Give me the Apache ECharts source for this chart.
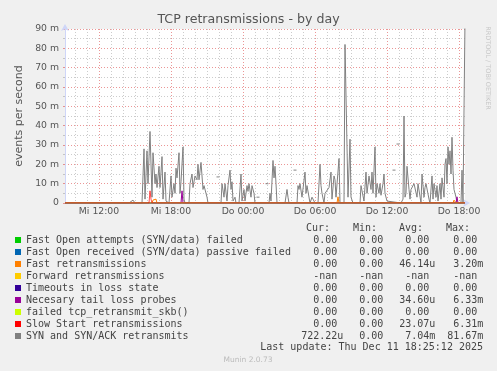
<!DOCTYPE html>
<html><head><meta charset="utf-8">
<style>html,body{margin:0;padding:0;background:#f0f0f0;}#c{width:497px;height:371px;}</style>
<script src="https://cdn.jsdelivr.net/npm/echarts@6/dist/echarts.min.js"></script>
</head><body><div id="c"></div>
<script>
// ---- time base: minutes since Wed 00:00, one step = 5 minutes ----
const startMinute = 550;      // Mi 09:10
const stepMinutes = 5;
const lastStep = 400;         // Do 18:30
const xTickMinutes = [720, 1080, 1440, 1800, 2160, 2520];
const xTickLabels = ['Mi 12:00', 'Mi 18:00', 'Do 00:00', 'Do 06:00', 'Do 12:00', 'Do 18:00'];
const yTickLabels = ['0', '10 m', '20 m', '30 m', '40 m', '50 m', '60 m', '70 m', '80 m', '90 m'];

// ---- legend ----
const seriesNames = [
  'Fast Open attempts (SYN/data) failed',
  'Fast Open received (SYN/data) passive failed',
  'Fast retransmissions',
  'Forward retransmissions',
  'Timeouts in loss state',
  'Necesary tail loss probes',
  'failed tcp_retransmit_skb()',
  'Slow Start retransmissions',
  'SYN and SYN/ACK retransmits'
];
const seriesColors = ['#00CC00', '#0066B3', '#FF8000', '#FFCC00', '#330099', '#990099', '#CCFF00', '#FF0000', '#808080'];
const curStats = ['0.00', '0.00', '0.00', '-nan', '0.00', '0.00', '0.00', '0.00', '722.22u'];
const minStats = ['0.00', '0.00', '0.00', '-nan', '0.00', '0.00', '0.00', '0.00', '0.00'];
const avgStats = ['0.00', '0.00', '46.14u', '-nan', '0.00', '34.60u', '0.00', '23.07u', '7.04m'];
const maxStats = ['0.00', '0.00', '3.20m', '-nan', '0.00', '6.33m', '0.00', '6.31m', '81.67m'];

// ---- series values: [step, value in milli-events/s] ----
const synPoints = [
  [0,0],[64,0],[66,1],[68,1.5],[70,0],[77,0],[79,28],[80,2],[82,27],[83,10],[85,37],[87,3],[88,26],
  [90,10],[91,15],[92,8],[94,19],[95,8],[97,24],[98,2],[100,16],[101,1],[103,0],[104,0],[106,14],
  [107,3],[109,10],[110,5],[111,18],[112,13],[114,26],[115,5],[116,11],[118,29],[119,2],[120,0],
  [124,0],[125,10],[127,15],[128,8],[130,14],[132,12],[133,20],[134,12],[136,21],[138,7],[139,9],
  [140,9],[142,3],[143,0],[156,0],[157,10],[159,3],[160,10],[162,1],[163,9],[165,17],[166,7],
  [167,11],[168,1],[170,3],[171,0],[174,0],[176,15],[177,1],[179,7],[180,1],[182,9],[183,6],
  [184,10],[186,3],[187,9],[188,9],[189,5],[190,0],[204,0],[205,5],[206,1],[208,22],[209,13],
  [210,19],[211,10],[212,0],[220,0],[222,7],[223,3],[224,0],[232,0],[233,9],[234,7],[235,10],
  [237,3],[238,3],[240,16],[241,5],[242,9],[244,9],[245,0],[247,3],[249,3],[250,0],[253,0],
  [255,20],[256,9],[257,5],[259,0],[260,5],[262,4],[264,8],[266,16],[267,2],[269,14],[270,12],
  [271,3],[272,3],[274,23],[275,0],[279,0],[280,82],[281,81],[283,3],[285,33],[286,3],[288,0],
  [295,0],[296,9],[298,9],[299,1],[301,16],[302,5],[304,14],[306,7],[307,16],[308,5],[310,29],
  [311,3],[312,10],[314,5],[315,10],[316,4],[318,10],[319,15],[320,5],[322,1],[323,0],[336,0],
  [338,2],[339,45],[340,3],[341,5],[342,19],[343,18],[344,7],[345,2],[346,7],[348,6],[349,10],
  [351,10],[352,3],[353,10],[355,10],[356,0],[357,15],[359,3],[360,8],[361,10],[363,10],[364,2],
  [365,0],[367,14],[368,2],[369,10],[371,3],[372,9],[373,1],[375,10],[376,2],[377,13],[379,3],
  [380,20],[381,23],[382,10],[383,29],[384,20],[385,27],[386,15],[387,34],[388,17],[389,7],
  [391,3],[392,0],[396,0],[397,17],[398,0],[399,0],[400,95]
];
const synIsolated = [[153,13.5],[193,3],[202,10],[230,17],[329,17],[333,30.5]];
const fastRetransPoints = [[0,0],[87,0],[88,1.5],[89,1],[90,1.5],[91,2],[92,0],[272,0],[273,3.2],[274,0],[388,0],[389,1.5],[390,1.5],[391,0],[400,0]];
const tailProbePoints = [[0,0],[116,0],[117,6.3],[118,0],[391,0],[392,3.2],[393,0],[400,0]];
const slowStartPoints = [[0,0],[84,0],[85,6.3],[86,2],[87,0],[400,0]];
const zeroPoints = [[0,0],[400,0]];
const forwardPoints = [];

const toXY = pts => pts.map(p => [startMinute + p[0] * stepMinutes, p[1]]);
const xMin = startMinute, xMax = startMinute + lastStep * stepMinutes;
const hourTicks = [];
for (let m = 600; m <= xMax; m += 60) if (xTickMinutes.indexOf(m) < 0) hourTicks.push(m);

const GRID = 'rgba(143,143,143,0.45)';
const MGRID = 'rgba(222,80,80,0.6)';
const AXIS = '#CFD6F8';
const FONT = 'DejaVu Sans';
const MONO = 'DejaVu Sans Mono';
const NBSP = '\u00a0';

function lineSeries(name, pts, color, z, opacity) {
  return {
    name, type: 'line', data: toXY(pts), showSymbol: false, symbol: 'none', z,
    lineStyle: { width: 1, color, opacity: opacity == null ? 1 : opacity }, itemStyle: { color }, silent: true, animation: false, clip: true
  };
}

// value field: 6 monospace chars for the number, 1 for the unit suffix
const field = s => {
  const hasUnit = /[a-z]$/.test(s) && s !== '-nan';
  const num = hasUnit ? s.slice(0, -1) : s;
  const unit = hasUnit ? s.slice(-1) : NBSP;
  return NBSP.repeat(Math.max(0, 6 - num.length)) + num + unit;
};
const legendFormatter = name => {
  const i = seriesNames.indexOf(name);
  return `{n|${name}}{c|${field(curStats[i])}}{m|${field(minStats[i])}}{a|${field(avgStats[i])}}{x|${field(maxStats[i])}}`;
};
const rs = w => ({ width: w, align: 'left', fontFamily: MONO, fontSize: 10, color: '#444', lineHeight: 12, padding: 0 });
const txt = (x, y, text, align) => ({ type: 'text', x, y, style: { text, align, verticalAlign: 'middle', font: '10px "DejaVu Sans Mono"', fill: '#444' } });

const chart = echarts.init(document.getElementById('c'), null, { renderer: 'canvas' });
chart.setOption({
  backgroundColor: '#F0F0F0',
  animation: false,
  title: {
    text: 'TCP retransmissions - by day', left: 'center', top: 13, padding: 0,
    textStyle: { fontFamily: FONT, fontSize: 12.6, fontWeight: 'normal', color: '#555' }
  },
  grid: { left: 65, top: 29, width: 400, height: 174, show: true, backgroundColor: '#FFFFFF', borderWidth: 0 },
  xAxis: [{
    type: 'value', min: xMin, max: xMax,
    axisLine: { show: true, onZero: false, lineStyle: { color: AXIS }, symbol: ['none', 'arrow'], symbolSize: [6, 7], symbolOffset: [0, 5] },
    axisTick: { show: false, customValues: xTickMinutes },
    axisLabel: {
      customValues: xTickMinutes, margin: 4, fontFamily: FONT, fontSize: 9.3, color: '#555',
      formatter: v => xTickLabels[xTickMinutes.indexOf(v)]
    },
    splitLine: { show: true, lineStyle: { color: MGRID, type: [1, 2], width: 1 } }
  }, {
    type: 'value', min: xMin, max: xMax, position: 'bottom',
    axisLine: { show: false }, axisTick: { show: false, customValues: hourTicks },
    axisLabel: { show: false, customValues: hourTicks },
    splitLine: { show: true, lineStyle: { color: GRID, type: [1, 2], width: 1 } }
  }],
  yAxis: {
    type: 'value', min: 0, max: 90, interval: 10,
    name: 'events per second', nameLocation: 'middle', nameGap: 32, nameRotate: 90,
    nameTextStyle: { fontFamily: FONT, fontSize: 11, color: '#555' },
    axisLine: { show: true, lineStyle: { color: AXIS }, symbol: ['none', 'arrow'], symbolSize: [6, 7], symbolOffset: [0, 5] },
    axisTick: { show: true, length: 2, lineStyle: { color: MGRID } },
    minorTick: { show: true, splitNumber: 2, length: 2, lineStyle: { color: GRID } },
    axisLabel: { margin: 6, fontFamily: FONT, fontSize: 9.3, color: '#555', formatter: v => yTickLabels[Math.round(v / 10)] },
    splitLine: { show: true, lineStyle: { color: MGRID, type: [1, 2], width: 1 } },
    minorSplitLine: { show: true, lineStyle: { color: GRID, type: [1, 2], width: 1 } }
  },
  legend: {
    orient: 'vertical', left: 15, top: 234, padding: 0, itemWidth: 6, itemHeight: 6, itemGap: 0, icon: 'rect',
    selectedMode: false, data: seriesNames, formatter: legendFormatter,
    textStyle: {
      fontFamily: MONO, fontSize: 10, color: '#444', lineHeight: 12,
      rich: { n: rs(275.2), c: rs(46), m: rs(46), a: rs(48), x: rs(44) }
    }
  },
  graphic: [
    txt(330, 228, 'Cur:', 'right'),
    txt(377, 228, 'Min:', 'right'),
    txt(423, 228, 'Avg:', 'right'),
    txt(470, 228, 'Max:', 'right'),
    txt(483, 347.5, 'Last update: Thu Dec 11 18:25:12 2025', 'right'),
    { type: 'text', x: 248, y: 360, style: { text: 'Munin 2.0.73', align: 'center', verticalAlign: 'middle', font: '7.5px "DejaVu Sans"', fill: '#bbb' } },
    { type: 'text', x: 488, y: 68, rotation: -Math.PI / 2, style: { text: 'RRDTOOL / TOBI OETIKER', align: 'center', verticalAlign: 'middle', font: '6.5px "DejaVu Sans"', fill: '#c8c8c8' } }
  ],
  series: [
    lineSeries(seriesNames[8], synPoints, seriesColors[8], 2),
    { name: seriesNames[8], type: 'scatter', data: toXY(synIsolated), symbol: 'rect', symbolSize: [3, 1.2], itemStyle: { color: seriesColors[8] }, silent: true, z: 2, animation: false },
    lineSeries(seriesNames[0], zeroPoints, seriesColors[0], 3),
    lineSeries(seriesNames[1], zeroPoints, seriesColors[1], 3),
    lineSeries(seriesNames[2], fastRetransPoints, seriesColors[2], 3),
    lineSeries(seriesNames[3], forwardPoints, seriesColors[3], 3),
    lineSeries(seriesNames[4], zeroPoints, seriesColors[4], 3),
    lineSeries(seriesNames[5], tailProbePoints, seriesColors[5], 3),
    lineSeries(seriesNames[6], zeroPoints, seriesColors[6], 3),
    lineSeries(seriesNames[7], slowStartPoints, seriesColors[7], 3, 0.7)
  ]
});
</script></body></html>
